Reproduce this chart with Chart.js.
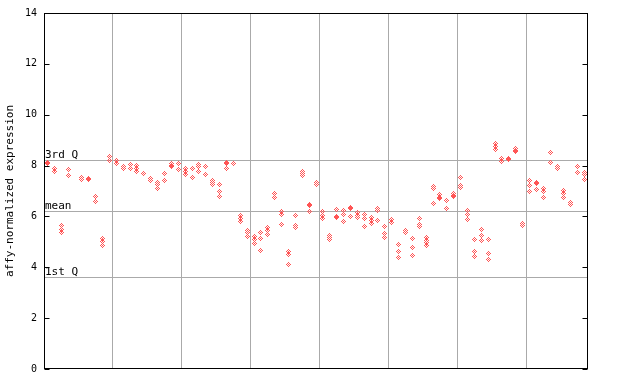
<!DOCTYPE html>
<html>
<head>
<meta charset="utf-8">
<script src="https://cdn.jsdelivr.net/npm/chart.js@4/dist/chart.umd.min.js"></script>
<style>
html,body{margin:0;padding:0;background:#fff;}
#wrap{width:640px;height:384px;position:relative;}
</style>
</head>
<body>
<div id="wrap"><canvas id="c" width="640" height="384"></canvas></div>
<script>
// sample index (categories)
const samples = Array.from({length: 79}, (_, i) => 'S' + (i + 1));
// replicate values per sample (null = no replicate)
const rep1 = [8.13,7.9,5.65,7.85,null,7.55,7.5,6.8,5.15,8.35,
  8.2,7.95,8.05,8.0,7.7,7.5,7.35,7.68,8.1,8.08,
  7.87,7.87,8.03,7.95,7.42,7.25,8.13,8.1,6.05,5.45,
  5.22,5.35,5.58,6.92,6.18,4.63,6.03,7.78,6.45,7.32,
  6.2,5.26,6.27,6.24,6.36,6.16,6.06,5.95,6.33,5.59,
  5.88,4.89,5.45,5.13,5.9,5.19,7.19,6.86,6.61,6.9,
  7.52,6.24,5.09,5.48,5.11,8.87,8.27,8.28,8.66,5.72,
  7.41,7.32,7.09,8.5,7.98,7.03,6.56,7.95,7.71];
const rep2 = [8.08,7.75,5.5,7.6,null,7.45,7.45,6.6,5.0,8.2,
  8.1,7.9,7.9,7.9,null,7.42,7.25,7.43,8.0,7.85,
  7.75,7.54,7.95,7.63,7.35,7.0,8.1,null,5.9,5.35,
  5.08,5.15,5.45,6.73,6.06,4.5,5.65,7.69,6.42,7.25,
  6.03,5.18,5.98,6.08,6.3,6.05,5.9,5.85,6.23,5.31,
  5.77,4.64,5.38,4.76,5.68,5.06,7.09,6.75,6.33,6.82,
  7.23,6.08,4.61,5.26,4.53,8.74,8.15,8.25,8.6,5.63,
  7.22,7.28,6.99,8.13,7.9,6.9,6.48,7.74,7.65];
const rep3 = [null,null,5.35,null,null,null,null,null,4.85,null,
  null,null,null,7.75,null,null,7.1,7.4,7.98,null,
  7.63,null,7.78,null,7.26,6.77,7.87,null,5.8,5.22,
  4.93,4.65,5.3,null,5.68,4.09,5.56,7.62,6.19,null,
  5.93,5.09,5.96,5.82,6.01,5.97,5.59,5.74,5.84,5.19,
  null,4.4,5.35,4.48,5.59,4.96,6.49,6.7,null,6.79,
  7.12,5.88,4.43,5.05,4.3,8.64,null,8.22,8.54,null,
  7.0,7.06,6.73,null,null,6.76,null,null,7.45];
const rep4 = [null,null,null,null,null,null,null,null,null,null,
  null,null,null,null,null,null,null,null,null,null,
  null,null,null,null,null,null,null,null,null,null,
  null,null,null,null,null,null,null,null,null,null,
  null,null,null,null,null,null,null,null,null,null,
  null,null,null,null,null,4.85,null,null,null,null,
  null,null,null,null,null,null,null,null,null,null,
  null,null,null,null,null,null,null,null,null];
// reference lines
const refLabels = ['3rd Q', 'mean', '1st Q'];
const refValues = [8.22, 6.22, 3.61];
// group boundaries (vertical grid lines)
const groupBounds = [9.5, 19.5, 29.5, 39.5, 49.5, 59.5, 69.5];
const yTicks = [0, 2, 4, 6, 8, 10, 12, 14];

const RED = '#ff5555';
function makeMarker() {
  const c = document.createElement('canvas');
  c.width = 5; c.height = 5;
  const g = c.getContext('2d');
  g.fillStyle = RED;
  for (let y = 0; y < 5; y++) for (let x = 0; x < 5; x++) {
    const d = Math.abs(x - 2) + Math.abs(y - 2);
    if (d <= 2 && d % 2 === 0) g.fillRect(x, y, 1, 1);
  }
  return c;
}
const marker = makeMarker();

function toPts(arr) {
  const out = [];
  arr.forEach((v, i) => { if (v !== null) out.push({x: i, y: v}); });
  return out;
}
const datasets = [rep1, rep2, rep3, rep4].map((a, k) => ({
  label: 'rep' + (k + 1),
  data: toPts(a),
  pointStyle: marker,
  pointRadius: 3,
  showLine: false
}));

const FONT = "'DejaVu Sans Mono', monospace";

const decor = {
  id: 'decor',
  beforeDatasetsDraw(chart) {
    const {ctx, chartArea: a, scales: {y}} = chart;
    ctx.save();
    ctx.strokeStyle = '#aaaaaa';
    ctx.lineWidth = 1;
    refValues.forEach(v => {
      const py = Math.round(y.getPixelForValue(v)) + 0.5;
      ctx.beginPath(); ctx.moveTo(a.left, py); ctx.lineTo(a.right, py); ctx.stroke();
    });
    ctx.fillStyle = '#000';
    ctx.font = '11px ' + FONT;
    ctx.textBaseline = 'bottom';
    ctx.textAlign = 'left';
    refValues.forEach((v, i) => {
      const py = Math.round(y.getPixelForValue(v));
      ctx.fillText(refLabels[i], a.left + 1, py + 1);
    });
    ctx.restore();
    chart.ctx.imageSmoothingEnabled = false;
  },
  afterDatasetsDraw(chart) {
    chart.ctx.imageSmoothingEnabled = true;
  },
  afterDraw(chart) {
    const {ctx, chartArea: a, scales: {y}} = chart;
    ctx.save();
    ctx.strokeStyle = '#000';
    ctx.lineWidth = 1;
    const l = Math.round(a.left) + 0.5, r = Math.round(a.right) - 0.5;
    const t = Math.round(a.top) + 0.5, b = Math.round(a.bottom) - 0.5;
    ctx.strokeRect(l, t, r - l, b - t);
    yTicks.forEach(v => {
      const py = Math.round(y.getPixelForValue(v)) + 0.5;
      ctx.beginPath(); ctx.moveTo(l, py); ctx.lineTo(l + 5, py); ctx.stroke();
      ctx.beginPath(); ctx.moveTo(r, py); ctx.lineTo(r - 5, py); ctx.stroke();
    });
    ctx.restore();
  }
};

new Chart(document.getElementById('c'), {
  type: 'scatter',
  data: {labels: samples, datasets},
  options: {
    responsive: false,
    animation: false,
    devicePixelRatio: 1,
    layout: {padding: {left: 0, top: 13, right: 52, bottom: 0}},
    plugins: {legend: {display: false}, tooltip: {enabled: false}},
    scales: {
      x: {
        type: 'linear', min: -0.5, max: 78.5,
        afterBuildTicks: s => { s.ticks = groupBounds.map(v => ({value: v})); },
        afterFit: s => { s.height = 15; },
        ticks: {display: false},
        grid: {color: '#aaaaaa', drawTicks: false, lineWidth: 1},
        border: {display: false}
      },
      y: {
        min: 0, max: 14,
        afterBuildTicks: s => { s.ticks = yTicks.map(v => ({value: v})); },
        afterFit: s => { s.width = 44; },
        ticks: {color: '#000', font: {family: FONT, size: 10}, padding: 7},
        grid: {display: false, drawTicks: false},
        border: {display: false},
        title: {display: true, text: 'affy-normalized expression', color: '#000',
          font: {family: FONT, size: 11}, padding: {top: 4, bottom: 0}}
      }
    }
  },
  plugins: [decor]
});
</script>
</body>
</html>
